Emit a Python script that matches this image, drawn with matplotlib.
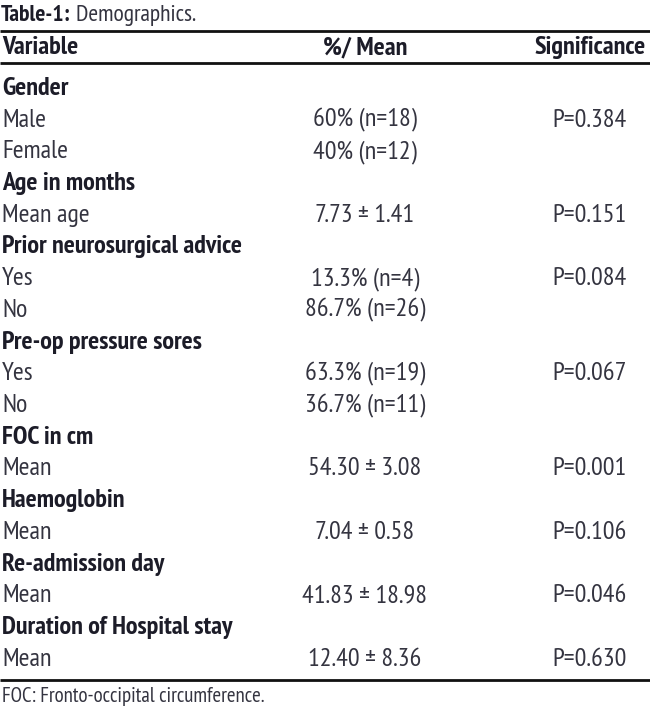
import matplotlib.pyplot as plt

# table content
variables = [
    ("Gender", True), ("Male", False), ("Female", False),
    ("Age in months", True), ("Mean age", False),
    ("Prior neurosurgical advice", True), ("Yes", False), ("No", False),
    ("Pre-op pressure sores", True), ("Yes", False), ("No", False),
    ("FOC in cm", True), ("Mean", False),
    ("Haemoglobin", True), ("Mean", False),
    ("Re-admission day", True), ("Mean", False),
    ("Duration of Hospital stay", True), ("Mean", False),
]
means = ["", "60% (n=18)", "40% (n=12)", "", "7.73 \u00b1 1.41", "",
         "13.3% (n=4)", "86.7% (n=26)", "", "63.3% (n=19)", "36.7% (n=11)",
         "", "54.30 \u00b1 3.08", "", "7.04 \u00b1 0.58", "", "41.83 \u00b1 18.98",
         "", "12.40 \u00b1 8.36"]
pvalues = ["", "P=0.384", "", "", "P=0.151", "", "P=0.084", "", "",
           "P=0.067", "", "", "P=0.001", "", "P=0.106", "", "P=0.046",
           "", "P=0.630"]
headers = ["Variable", "%/ Mean", "Significance"]
title_bold = "Table-1:"
title_rest = " Demographics."
footnote = "FOC: Fronto-occipital circumference."

plt.rcParams["font.family"] = ["PT Sans Narrow", "DejaVu Sans"]

W, H = 650, 717
fig = plt.figure(figsize=(W / 100, H / 100), dpi=100)
ax = fig.add_axes([0, 0, 1, 1])
ax.set_xlim(0, W)
ax.set_ylim(H, 0)
ax.axis("off")

TXT = "#343440"
BOLD = "#1c1c28"
FS = 18.8

# title: bold label then regular text right after it
t = ax.text(1, 21, title_bold, fontsize=17, fontweight="bold", color=BOLD,
            va="baseline", ha="left")
fig.canvas.draw()
x_end = t.get_window_extent().x1
ax.annotate(title_rest, xy=(x_end, H - 21), xycoords="figure pixels",
            fontsize=17, color=TXT, va="baseline", ha="left")

for y in (30.5, 63, 680):
    ax.plot([0, W], [y, y], color="#111111", lw=2.0, solid_capstyle="butt")

ax.text(2, 54, headers[0], fontsize=FS, fontweight="bold", color=BOLD, va="baseline")
ax.text(365, 54, headers[1], fontsize=FS, fontweight="bold", color=BOLD,
        va="baseline", ha="center")
ax.text(646, 54, headers[2], fontsize=FS, fontweight="bold", color=BOLD,
        va="baseline", ha="right")

y0, dy = 95, 31.7
for i, (name, is_group) in enumerate(variables):
    y = y0 + i * dy
    ax.text(2, y, name, fontsize=FS, color=BOLD if is_group else TXT,
            fontweight="bold" if is_group else "normal", va="baseline")
    if means[i]:
        ax.text(365, y, means[i], fontsize=FS, color=TXT, va="baseline", ha="center")
    if pvalues[i]:
        ax.text(590, y, pvalues[i], fontsize=FS, color=TXT, va="baseline", ha="center")

ax.text(2, 702, footnote, fontsize=15, color=TXT, va="baseline")

fig.savefig("out.png", dpi=100)
